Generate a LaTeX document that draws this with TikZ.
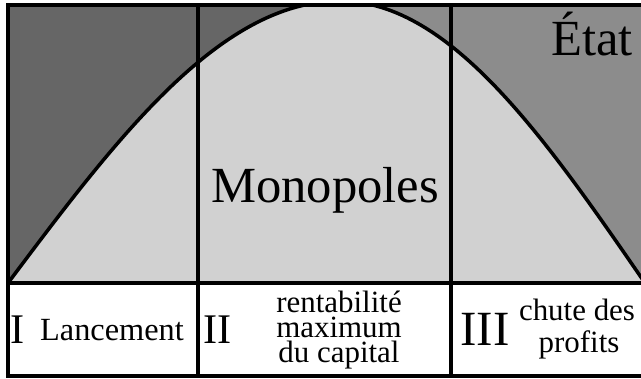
\documentclass[tikz,border=0pt]{standalone}
\usepackage{fontspec}
\setmainfont{Liberation Serif}

\begin{document}
\begin{tikzpicture}[x=0.025cm, y=-0.025cm,
  boxline/.style={line width=3pt},
  colline/.style={line width=2.5pt},
  bigword/.style={font=\fontsize{36}{40}\selectfont, inner sep=0pt, anchor=base},
  numeral/.style={font=\fontsize{30}{34}\selectfont, inner sep=0pt, anchor=base},
  celltext/.style={font=\fontsize{22}{26}\selectfont, inner sep=0pt, anchor=base}]
\useasboundingbox (0,0) rectangle (641,378);
\fill[white] (0,0) rectangle (641,378);
\begin{scope}
  \clip (8,5) rectangle (645,283);
  \fill[black!18] (8,5) rectangle (645,283);
  \fill[black!60] (8,283) -- plot[domain=8:340, samples=60] (\x,{283-282*sin((\x-8)*0.27108)}) -- (340,-5) -- (8,-5) -- cycle;
  \fill[black!45] plot[domain=340:645, samples=60] (\x,{283-282*sin((645-\x)*0.29508)}) -- (645,-5) -- (340,-5) -- cycle;
  \draw[colline] plot[domain=8:340, samples=60] (\x,{283-282*sin((\x-8)*0.27108)});
  \draw[colline] plot[domain=340:645, samples=60] (\x,{283-282*sin((645-\x)*0.29508)});
\end{scope}
\foreach \x in {198,451}
  \draw[colline] (\x,5) -- (\x,377);
\draw[boxline] (645,5) -- (8,5) -- (8,376) -- (645,376);
\draw[boxline] (8,283) -- (645,283);
\node[bigword] (etat) at (592,55) {État};
\node[bigword] (mono) at (325,202) {Monopoles};
\node[numeral] (one) at (18,343) {I};
\node[celltext, font=\fontsize{23}{26}\selectfont] (lance) at (112,340) {Lancement};
\node[numeral] (two) at (218,343) {II};
\node[celltext, font=\fontsize{22}{17.5}\selectfont, align=center, anchor=center] (rent) at (339,330)
  {rentabilité\\maximum\\du capital};
\node[numeral, font=\fontsize{35}{40}\selectfont] (three) at (485,345) {III};
\node[celltext] (chute) at (577,320) {chute des};
\node[celltext] (prof) at (579,352) {profits};
\end{tikzpicture}
\end{document}
